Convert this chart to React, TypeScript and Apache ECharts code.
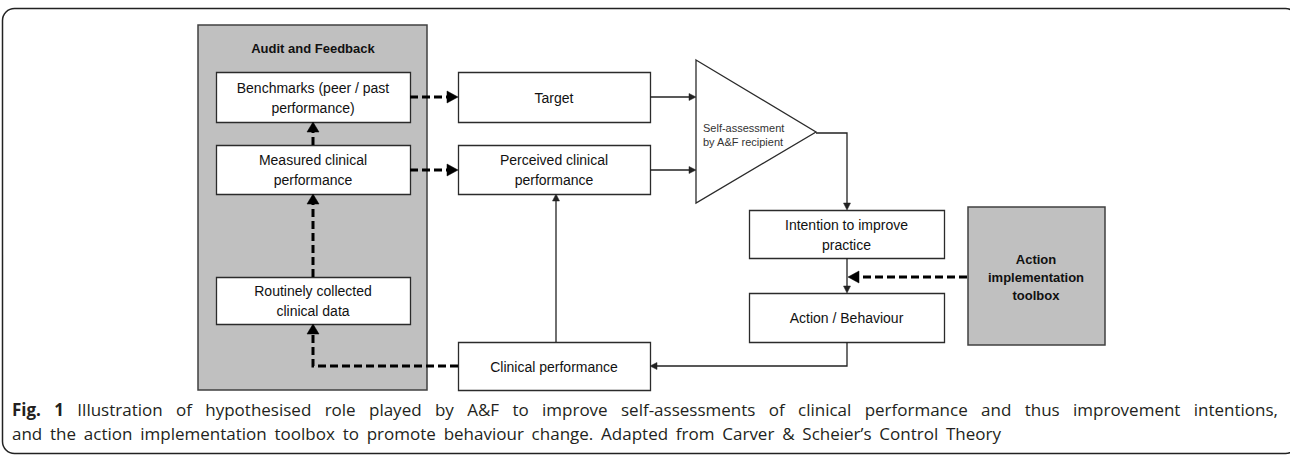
import React, { useEffect, useRef } from "react";
import * as echarts from "echarts";

// ---- Content (texts) ----
const groupTitle = "Audit and Feedback";
const boxLabels = [
  "Benchmarks (peer / past\nperformance)",
  "Measured clinical\nperformance",
  "Routinely collected\nclinical data",
  "Target",
  "Perceived clinical\nperformance",
  "Clinical performance",
  "Intention to improve\npractice",
  "Action / Behaviour",
];
const triangleLabel = "Self-assessment\nby A&F recipient";
const toolboxLabel = "Action\nimplementation\ntoolbox";
const captionBold = ["Fig.", "1"];
const captionLine1 =
  "Illustration of hypothesised role played by A&F to improve self-assessments of clinical performance and thus improvement intentions,";
const captionLine2 =
  "and the action implementation toolbox to promote behaviour change. Adapted from Carver & Scheier\u2019s Control Theory";

// ---- Layout (positions) ----
const boxLayout: number[][] = [
  [216, 72, 194, 50],
  [216, 145, 194, 49],
  [216, 277, 194, 47],
  [458, 72, 192, 50],
  [458, 145, 192, 49],
  [458, 342, 192, 48],
  [749, 210, 195, 48],
  [749, 293, 195, 49],
];

const W = 1290;
const H = 461;
const BOX_FONT = "'Liberation Sans', Arial, sans-serif";
const CAP_FONT = "'Open Sans', sans-serif";
const STROKE = "#2b2b2b";

function head(tx: number, ty: number, dir: string, len: number, half: number, color: string) {
  let pts: number[][];
  if (dir === "right") pts = [[tx, ty], [tx - len, ty - half], [tx - len, ty + half]];
  else if (dir === "left") pts = [[tx, ty], [tx + len, ty - half], [tx + len, ty + half]];
  else if (dir === "up") pts = [[tx, ty], [tx - half, ty + len], [tx + half, ty + len]];
  else pts = [[tx, ty], [tx - half, ty - len], [tx + half, ty - len]];
  return { type: "polygon", shape: { points: pts }, style: { fill: color, stroke: color, lineWidth: 0.5 }, z: 5 };
}

function dashed(points: number[][]) {
  return {
    type: "polyline",
    shape: { points },
    style: { stroke: "#000", lineWidth: 3, lineDash: [8, 4], fill: "none" },
    z: 4,
  };
}

function solid(points: number[][]) {
  return {
    type: "polyline",
    shape: { points },
    style: { stroke: "#222", lineWidth: 1.3, fill: "none" },
    z: 4,
  };
}

function measure(text: string, font: string) {
  const c = document.createElement("canvas").getContext("2d")!;
  c.font = font;
  return c.measureText(text).width;
}

function spreadLine(els: any[], words: { t: string; b: boolean }[], left: number, right: number, y: number, size: number) {
  const normalFont = `${size}px ${CAP_FONT}`;
  const boldFont = `bold ${size}px ${CAP_FONT}`;
  const widths = words.map((w) => measure(w.t, w.b ? boldFont : normalFont));
  const total = widths.reduce((a, b) => a + b, 0);
  const gap = (right - left - total) / (words.length - 1);
  let cx = left;
  words.forEach((w, i) => {
    els.push({
      type: "text",
      x: cx,
      y,
      style: { text: w.t, fontFamily: CAP_FONT, fontSize: size, fontWeight: w.b ? "bold" : "normal", fill: "#231f20", align: "left", verticalAlign: "middle" },
      z: 3,
    });
    cx += widths[i] + gap;
  });
}

export default function App() {
  const ref = useRef<HTMLDivElement>(null);
  useEffect(() => {
    document.body.style.margin = "0";
    const chart = echarts.init(ref.current!, null, { renderer: "svg" });
    const els: any[] = [];

    // outer frame
    els.push({
      type: "rect",
      shape: { x: 2.5, y: 8.5, width: 1295, height: 445, r: 12 },
      style: { fill: "#fff", stroke: "#222", lineWidth: 1.5 },
      z: 0,
    });
    // Audit and feedback group
    els.push({
      type: "rect",
      shape: { x: 198, y: 25, width: 229, height: 365 },
      style: { fill: "#c0c0c0", stroke: "#404040", lineWidth: 1.5 },
      z: 1,
    });
    els.push({
      type: "text",
      x: 313,
      y: 48,
      style: { text: groupTitle, fontFamily: BOX_FONT, fontSize: 13, fontWeight: "bold", fill: "#111", align: "center", verticalAlign: "middle" },
      z: 3,
    });
    // toolbox
    els.push({
      type: "rect",
      shape: { x: 968, y: 207, width: 137, height: 138 },
      style: { fill: "#c0c0c0", stroke: "#404040", lineWidth: 1.5 },
      z: 1,
    });
    els.push({
      type: "text",
      x: 1036,
      y: 277,
      style: { text: toolboxLabel, fontFamily: BOX_FONT, fontSize: 13, fontWeight: "bold", lineHeight: 18, fill: "#111", align: "center", verticalAlign: "middle" },
      z: 3,
    });
    // boxes
    boxLabels.forEach((label, i) => {
      const [x, y, w, h] = boxLayout[i];
      els.push({
        type: "rect",
        shape: { x: x + 0.5, y: y + 0.5, width: w, height: h },
        style: { fill: "#fff", stroke: STROKE, lineWidth: 1.3 },
        z: 2,
      });
      els.push({
        type: "text",
        x: x + w / 2,
        y: y + h / 2 + 0.5,
        style: { text: label, fontFamily: BOX_FONT, fontSize: 14, lineHeight: 20, fill: "#111", align: "center", verticalAlign: "middle" },
        z: 3,
      });
    });
    // triangle
    els.push({
      type: "polygon",
      shape: { points: [[696, 60], [816, 132], [696, 203]] },
      style: { fill: "#fff", stroke: STROKE, lineWidth: 1.3 },
      z: 2,
    });
    els.push({
      type: "text",
      x: 703,
      y: 135,
      style: { text: triangleLabel, fontFamily: BOX_FONT, fontSize: 11, lineHeight: 14, fill: "#333", align: "left", verticalAlign: "middle" },
      z: 3,
    });

    // dashed arrows
    els.push(dashed([[410, 97], [448, 97]]), head(458, 97, "right", 11, 6, "#000"));
    els.push(dashed([[410, 170], [448, 170]]), head(458, 170, "right", 11, 6, "#000"));
    els.push(dashed([[313, 145], [313, 131]]), head(313, 122, "up", 10, 6, "#000"));
    els.push(dashed([[313, 277], [313, 204]]), head(313, 194, "up", 10, 6, "#000"));
    els.push(dashed([[458, 366], [313, 366], [313, 334]]), head(313, 324, "up", 10, 6, "#000"));
    els.push(dashed([[967, 277], [858, 277]]), head(848, 277, "left", 11, 6, "#000"));

    // solid arrows
    els.push(solid([[650, 97], [690, 97]]), head(696, 97, "right", 7, 3.5, "#222"));
    els.push(solid([[650, 170], [690, 170]]), head(696, 170, "right", 7, 3.5, "#222"));
    els.push(solid([[816, 133], [847, 133], [847, 204]]), head(847, 210, "down", 7, 3.5, "#222"));
    els.push(solid([[847, 258], [847, 287]]), head(847, 293, "down", 7, 3.5, "#222"));
    els.push(solid([[847, 342], [847, 366], [656, 366]]), head(650, 366, "left", 7, 3.5, "#222"));
    els.push(solid([[556, 342], [556, 200]]), head(556, 194, "up", 7, 3.5, "#222"));

    // caption
    const size = 17;
    const line1Words = [
      ...captionBold.map((t) => ({ t, b: true })),
      ...captionLine1.split(" ").map((t) => ({ t, b: false })),
    ];
    spreadLine(els, line1Words, 12, 1278, 409, size);
    const line2Words = captionLine2.split(" ").map((t) => ({ t, b: false }));
    spreadLine(els, line2Words, 12, 1001, 433, size);

    chart.setOption({ animation: false, graphic: { elements: els } });
    return () => chart.dispose();
  }, []);
  return <div ref={ref} style={{ width: W, height: H, position: "absolute", left: 0, top: 0 }} />;
}
